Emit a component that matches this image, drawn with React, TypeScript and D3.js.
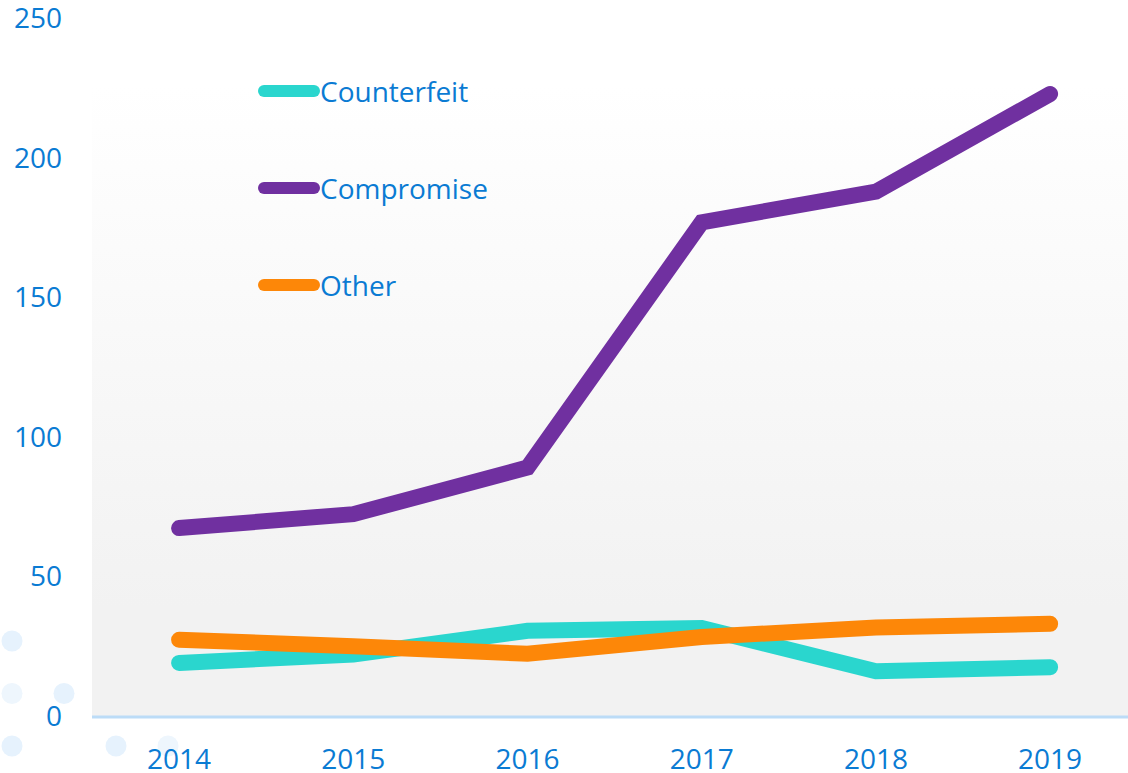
import React from 'react'
import * as d3 from 'd3'

const years = ['2014', '2015', '2016', '2017', '2018', '2019']
const counterfeit = [19, 22, 30.5, 31.5, 16, 17.5]
const compromise = [67.3, 72.3, 89, 176.8, 187.8, 222.8]
const other = [27.3, 25, 22.3, 28.3, 31.7, 33]
const yTicks = [0, 50, 100, 150, 200, 250]

const seriesList = [
  { name: 'Counterfeit', values: counterfeit, color: '#2ad6ce' },
  { name: 'Compromise', values: compromise, color: '#7030a0' },
  { name: 'Other', values: other, color: '#fd8708' },
]

// faint dot pattern in the lower left corner (grid col/row + tint)
const dots = [
  { col: 0, row: 0, fill: '#e6f2fd' },
  { col: 0, row: 1, fill: '#eef6fd' },
  { col: 1, row: 1, fill: '#e6f2fd' },
  { col: 0, row: 2, fill: '#e6f2fd' },
  { col: 2, row: 2, fill: '#e6f2fd' },
  { col: 3, row: 2, fill: '#eef6fd' },
]

const textColor = '#0a7bd3'
const font = '"Open Sans", sans-serif'

const App = () => {
  const width = 1128
  const height = 773
  const plotLeft = 92
  const baseY = 716

  const x = d3.scaleBand().domain(years).range([plotLeft, plotLeft + 6 * 174.2])
  const y = d3.scaleLinear().domain([0, 250]).range([baseY, 18])

  const line = d3
    .line<number>()
    .x((_, i) => x(years[i])! + x.bandwidth() / 2)
    .y((d) => y(d))

  return (
    <div style={{ position: 'absolute', left: 0, top: 0 }}>
      <svg width={width} height={height} style={{ display: 'block' }}>
        <defs>
          <linearGradient id="bg" x1="0" y1="0" x2="0" y2="1">
            <stop offset="0" stopColor="#ffffff" />
            <stop offset="0.12" stopColor="#ffffff" />
            <stop offset="0.85" stopColor="#f2f2f2" />
            <stop offset="1" stopColor="#f2f2f2" />
          </linearGradient>
        </defs>
        <rect x={0} y={0} width={width} height={height} fill="#ffffff" />
        <rect x={plotLeft} y={0} width={width - plotLeft} height={baseY} fill="url(#bg)" />

        {dots.map((d, i) => (
          <circle key={i} cx={12 + d.col * 52} cy={641 + d.row * 52.5} r={10.5} fill={d.fill} />
        ))}

        <line x1={plotLeft} x2={width} y1={baseY + 1} y2={baseY + 1} stroke="#bcdcf7" strokeWidth={3} />

        {yTicks.map((t) => (
          <text
            key={t}
            x={62}
            y={y(t) - 1}
            textAnchor="end"
            dominantBaseline="central"
            fontFamily={font}
            fontSize={28}
            fill={textColor}>
            {t}
          </text>
        ))}

        {years.map((yr) => (
          <text
            key={yr}
            x={x(yr)! + x.bandwidth() / 2}
            y={758}
            textAnchor="middle"
            dominantBaseline="central"
            fontFamily={font}
            fontSize={28}
            fill={textColor}>
            {yr}
          </text>
        ))}

        {seriesList.map((s) => (
          <path
            key={s.name}
            d={line(s.values) || ''}
            fill="none"
            stroke={s.color}
            strokeWidth={16}
            strokeLinecap="round"
            strokeLinejoin="miter"
          />
        ))}

        {seriesList.map((s, i) => (
          <g key={s.name} transform={`translate(0, ${91 + i * 97})`}>
            <line x1={264} x2={314} y1={0} y2={0} stroke={s.color} strokeWidth={12} strokeLinecap="round" />
            <text x={320} y={0} dominantBaseline="central" fontFamily={font} fontSize={28} fill={textColor}>
              {s.name}
            </text>
          </g>
        ))}
      </svg>
    </div>
  )
}

export default App
